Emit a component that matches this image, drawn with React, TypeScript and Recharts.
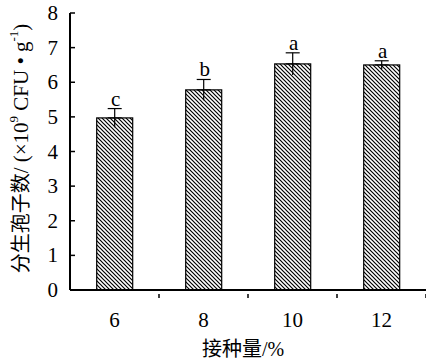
import React from 'react';
import { BarChart, Bar, XAxis, YAxis, ErrorBar, LabelList } from 'recharts';

const doses = ['6', '8', '10', '12'];
const conidia = [4.97, 5.78, 6.53, 6.5];
const errors = [0.27, 0.3, 0.32, 0.12];
const letters = ['c', 'b', 'a', 'a'];
const yTicks = [0, 1, 2, 3, 4, 5, 6, 7, 8];

const data = doses.map((dose, i) => ({
  dose,
  value: conidia[i],
  errUp: [0, errors[i]],
  errDown: [errors[i], 0],
}));

const FONT = '"Liberation Serif", "Noto Sans CJK SC", serif';

function HatchBar(props: any) {
  const { x, y, width, height } = props;
  return (
    <g>
      <defs>
        <pattern id="hatch" width="4" height="4" patternUnits="userSpaceOnUse">
          <path d="M-1,-1 L5,5 M-1,3 L1,5 M3,-1 L5,1" stroke="#000" strokeWidth={1.2} />
        </pattern>
      </defs>
      <rect x={x} y={y} width={width} height={height} fill="url(#hatch)" stroke="#000" strokeWidth={1.2} />
    </g>
  );
}

function XTick(props: any) {
  const { x, y, payload } = props;
  const half = payload.offset ?? 44.5;
  return (
    <g>
      <line x1={x + half} y1={y} x2={x + half} y2={y - 4} stroke="#000" strokeWidth={1.5} />
      <text x={x} y={y + 29} textAnchor="middle" fontSize={21} fontFamily={FONT} fill="#000">
        {payload.value}
      </text>
    </g>
  );
}

function YTick(props: any) {
  const { x, y, payload } = props;
  return (
    <text x={x} y={y + 7} textAnchor="end" fontSize={21} fontFamily={FONT} fill="#000">
      {payload.value}
    </text>
  );
}

function LetterLabel(props: any) {
  const { x, y, width, height, value, index } = props;
  const perUnit = height / value;
  const top = y - errors[index] * perUnit;
  return (
    <text x={x + width / 2 + 1} y={top - 3} textAnchor="middle" fontSize={21} fontFamily={FONT} fill="#000">
      {letters[index]}
    </text>
  );
}

function XLabel(props: any) {
  const { viewBox } = props;
  return (
    <text
      x={viewBox.x + viewBox.width / 2 - 5}
      y={viewBox.y + 66}
      textAnchor="middle"
      fontSize={20}
      fontFamily={FONT}
      fill="#000"
    >
      接种量/%
    </text>
  );
}

function YLabel(props: any) {
  const { viewBox } = props;
  const cx = 21;
  const cy = viewBox.y + viewBox.height / 2 - 3;
  return (
    <text
      x={cx}
      y={cy}
      transform={`rotate(-90 ${cx} ${cy})`}
      textAnchor="middle"
      dominantBaseline="central"
      fontSize={21}
      fontFamily={FONT}
      fill="#000"
    >
      <tspan fontSize={20}>分生孢子数</tspan>/ (×10<tspan fontSize={13} dy={-8}>9</tspan>
      <tspan dy={8}> CFU • g</tspan>
      <tspan fontSize={13} dy={-8}>-1</tspan>
      <tspan dy={8}>)</tspan>
    </text>
  );
}

export default function App() {
  return (
    <div style={{ position: 'absolute', left: 0, top: 0, background: '#fff' }}>
      <BarChart
        width={428}
        height={364}
        data={data}
        margin={{ top: 13, right: 2, left: 0, bottom: 0 }}
        barCategoryGap="30%"
      >
        <XAxis
          dataKey="dose"
          height={74}
          axisLine={{ stroke: '#000', strokeWidth: 2 }}
          tickLine={false}
          tick={<XTick />}
          interval={0}
          label={{ content: <XLabel /> }}
        />
        <YAxis
          width={70}
          domain={[0, 8]}
          ticks={yTicks}
          interval={0}
          axisLine={{ stroke: '#000', strokeWidth: 2 }}
          tickLine={{ stroke: '#000', strokeWidth: 1.5 }}
          tickSize={-5}
          tickMargin={17}
          tick={<YTick />}
          label={{ content: <YLabel /> }}
        />
        <Bar dataKey="value" shape={<HatchBar />} isAnimationActive={false}>
          <ErrorBar dataKey="errUp" width={7} stroke="#000" strokeWidth={1.2} direction="y" />
          <ErrorBar dataKey="errDown" width={0} stroke="#000" strokeWidth={1.2} direction="y" />
          <LabelList dataKey="value" content={<LetterLabel />} />
        </Bar>
      </BarChart>
    </div>
  );
}
